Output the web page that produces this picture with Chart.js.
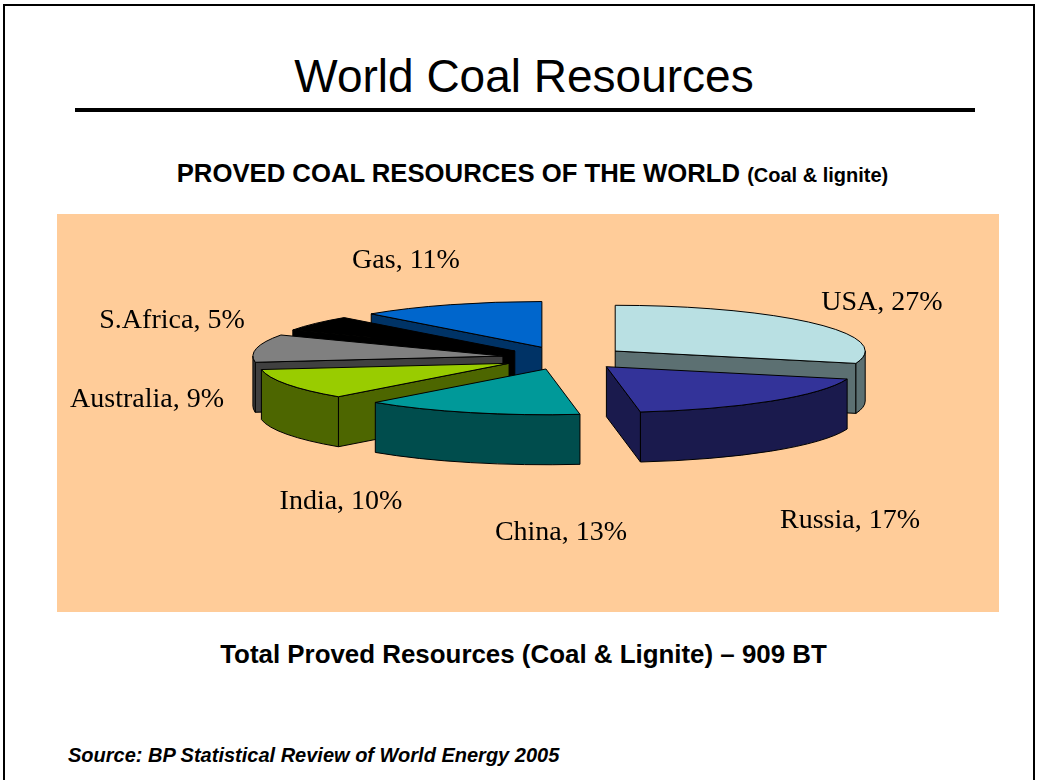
<!DOCTYPE html>
<html>
<head>
<meta charset="utf-8">
<script src="https://cdn.jsdelivr.net/npm/chart.js@4/dist/chart.umd.min.js"></script>
<style>
  html, body { margin: 0; padding: 0; background: #fff; }
  body { width: 1037px; height: 780px; position: relative; overflow: hidden; font-family: "Liberation Sans", Arial, sans-serif; }
  .frame { position: absolute; left: 3px; top: 4px; width: 1028px; height: 800px; border: 2px solid #000; }
  .txt { position: absolute; line-height: 1; white-space: nowrap; color: #000; }
  .title { left: 0; width: 1048px; top: 53px; text-align: center; font-size: 46px; }
  .rule { position: absolute; left: 75px; top: 108px; width: 900px; height: 4px; background: #000; }
  .subtitle { left: 0; width: 1065px; top: 161px; text-align: center; font-size: 25.7px; font-weight: bold; }
  .subtitle span { font-size: 20px; }
  .plot { position: absolute; left: 57px; top: 214px; width: 942px; height: 398px; background: #ffcc99; }
  .total { left: 0; width: 1047px; top: 642px; text-align: center; font-size: 25.9px; font-weight: bold; }
  .source { left: 68px; top: 745px; font-size: 20px; font-weight: bold; font-style: italic; }
</style>
</head>
<body>
<div class="frame"></div>
<div class="txt title">World Coal Resources</div>
<div class="rule"></div>
<div class="txt subtitle">PROVED COAL RESOURCES OF THE WORLD <span>(Coal &amp; lignite)</span></div>
<div class="plot"><canvas id="coalPie" width="942" height="398"></canvas></div>
<div class="txt total">Total Proved Resources (Coal &amp; Lignite) – 909 BT</div>
<div class="txt source">Source: BP Statistical Review of World Energy 2005</div>

<script>
// share of proved coal resources, in %
const countries = ["USA", "Russia", "China", "India", "Australia", "S.Africa", "Gas"];
const shares = [27, 17, 13, 10, 9, 5, 11];

// top face / side wall colours
const topColors = ["#b9e0e3", "#333399", "#009999", "#99cc00", "#808080", "#000000", "#0066cc"];
const sideColors = ["#5c7072", "#1a1a4d", "#004d4d", "#4d6600", "#404040", "#000000", "#003366"];

// label placement, offset from the pie centre (text baseline, centred)
const labelOffsets = [[317, -48], [285, 170], [-4, 182], [-224, 151], [-418, 49], [-393, -30], [-159, -90]];

const DEPTH = 50;    // height of the extruded pie
const TILT = 0.183;  // vertical squash of the disc
const EXPLODE = 63;  // distance each slice is pulled out

function drawWalls(ctx, s) {
  const ry = s.r * TILT;
  const rim = (a, dy) => [s.ox + Math.cos(a) * s.r, s.oy + Math.sin(a) * ry + dy];
  const face = pts => {
    ctx.beginPath();
    pts.forEach((p, k) => k ? ctx.lineTo(p[0], p[1]) : ctx.moveTo(p[0], p[1]));
    ctx.closePath();
    ctx.fill();
    ctx.stroke();
  };
  ctx.save();
  ctx.fillStyle = sideColors[s.i];
  ctx.strokeStyle = "#000";
  ctx.lineWidth = 1;
  ctx.lineJoin = "round";
  // cut faces, only the ones turned towards the viewer
  if (Math.cos(s.a0) < 0) face([[s.ox, s.oy], rim(s.a0, 0), rim(s.a0, DEPTH), [s.ox, s.oy + DEPTH]]);
  if (Math.cos(s.a1) > 0) face([[s.ox, s.oy], rim(s.a1, 0), rim(s.a1, DEPTH), [s.ox, s.oy + DEPTH]]);
  // outer wall on the front half
  const w0 = Math.max(s.a0, 0), w1 = Math.min(s.a1, Math.PI);
  if (w1 > w0) {
    ctx.beginPath();
    ctx.ellipse(s.ox, s.oy, s.r, ry, 0, w0, w1);
    ctx.ellipse(s.ox, s.oy + DEPTH, s.r, ry, 0, w1, w0, true);
    ctx.closePath();
    ctx.fill();
    ctx.stroke();
  }
  ctx.restore();
}

const pie3d = {
  id: "pie3d",
  beforeDatasetsDraw(chart) {
    const ctx = chart.ctx;
    const meta = chart.getDatasetMeta(0);
    const slices = meta.data.map((arc, i) => {
      const p = arc.getProps(["x", "y", "startAngle", "endAngle", "outerRadius"]);
      const mid = (p.startAngle + p.endAngle) / 2;
      return {
        arc, i, mid,
        a0: p.startAngle, a1: p.endAngle, r: p.outerRadius, cx: p.x, cy: p.y,
        ox: p.x + Math.cos(mid) * EXPLODE,
        oy: p.y + Math.sin(mid) * EXPLODE * TILT
      };
    });
    // paint from the back to the front
    slices.sort((a, b) => Math.sin(a.mid) - Math.sin(b.mid));
    slices.forEach(s => {
      drawWalls(ctx, s);
      // top face: the arc element drawn through a squashing transform
      ctx.save();
      ctx.translate(s.ox, s.oy);
      ctx.scale(1, TILT);
      ctx.translate(-s.cx, -s.cy);
      s.arc.draw(ctx);
      ctx.restore();
      // outline of the top face in screen space so the line width stays even
      ctx.save();
      ctx.beginPath();
      ctx.moveTo(s.ox, s.oy);
      ctx.ellipse(s.ox, s.oy, s.r, s.r * TILT, 0, s.a0, s.a1);
      ctx.closePath();
      ctx.lineWidth = 1;
      ctx.strokeStyle = "#000";
      ctx.lineJoin = "round";
      ctx.stroke();
      ctx.restore();
    });
    return false;
  },
  afterDraw(chart) {
    const ctx = chart.ctx;
    const arc0 = chart.getDatasetMeta(0).data[0];
    ctx.save();
    ctx.font = '28px "Liberation Serif", "Times New Roman", serif';
    ctx.fillStyle = "#000";
    ctx.textAlign = "center";
    ctx.textBaseline = "alphabetic";
    countries.forEach((name, i) => {
      ctx.fillText(name + ", " + shares[i] + "%", arc0.x + labelOffsets[i][0], arc0.y + labelOffsets[i][1]);
    });
    ctx.restore();
  }
};

new Chart(document.getElementById("coalPie"), {
  type: "pie",
  data: {
    labels: countries,
    datasets: [{
      data: shares,
      backgroundColor: topColors,
      borderWidth: 0,
      clip: false
    }]
  },
  options: {
    responsive: false,
    animation: false,
    radius: 250,
    layout: { padding: { left: 74, right: 0, top: 0, bottom: 110 } },
    plugins: {
      legend: { display: false },
      tooltip: { enabled: false }
    }
  },
  plugins: [pie3d]
});
</script>
</body>
</html>
